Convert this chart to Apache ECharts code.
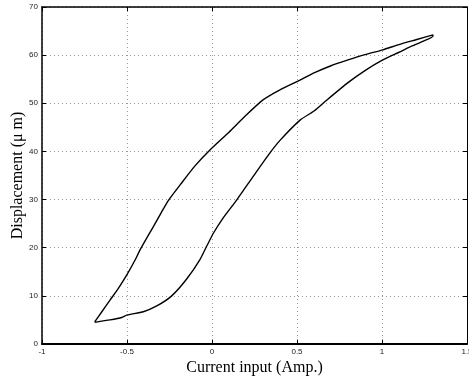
<!DOCTYPE html>
<html>
<head>
<meta charset="utf-8">
<script src="https://cdn.jsdelivr.net/npm/echarts@6/dist/echarts.min.js"></script>
<style>
  html, body { margin: 0; padding: 0; background: #fff; }
  #chart { width: 469px; height: 382px; }
</style>
</head>
<body>
<div id="chart"></div>
<script>
// rising branch (lower-left up to top-right)
var upX = [-0.69, -0.65, -0.6, -0.55, -0.502, -0.45, -0.424, -0.345, -0.3, -0.257, -0.18, -0.1, -0.012, 0.1, 0.2, 0.3, 0.4, 0.518, 0.6, 0.7, 0.8, 0.9, 1.005, 1.1, 1.2, 1.3]
var upY = [4.6, 6.6, 9.1, 11.6, 14.3, 17.6, 19.5, 24.4, 27.2, 29.8, 33.4, 37.0, 40.3, 44.0, 47.5, 50.7, 52.8, 54.8, 56.3, 57.8, 59.0, 60.1, 61.1, 62.2, 63.2, 64.2]
// falling branch (top-right back down to lower-left)
var downX = [1.3, 1.25, 1.165, 1.1, 1.005, 0.9, 0.8, 0.676, 0.6, 0.518, 0.4, 0.341, 0.25, 0.145, 0.066, 0.008, -0.03, -0.07, -0.149, -0.237, -0.325, -0.404, -0.502, -0.531, -0.6, -0.69]
var downY = [64.0, 63.0, 61.7, 60.6, 59.0, 56.8, 54.3, 50.7, 48.4, 46.5, 42.3, 39.7, 35.2, 29.9, 26.2, 23.0, 20.4, 17.6, 13.5, 10.0, 7.9, 6.7, 6.0, 5.5, 5.0, 4.5]

var xTicks = { min: -1, max: 1.5, interval: 0.5 }
var yTicks = { min: 0, max: 70, interval: 10 }

var loop = []
for (var i = 0; i < upX.length; i++) loop.push([upX[i], upY[i]])
for (var j = 0; j < downX.length; j++) loop.push([downX[j], downY[j]])

var dom = echarts.init(document.getElementById('chart'))

var tickLabel = {
  color: '#222',
  fontSize: 8,
  fontFamily: 'Liberation Sans, Arial, sans-serif'
}
var titleStyle = {
  color: '#000',
  fontSize: 16,
  fontFamily: 'Liberation Serif, Times New Roman, serif'
}
var gridLine = { show: true, lineStyle: { color: '#999', type: [1, 3], width: 1 } }
var inTick = { show: true, inside: true, length: 4, lineStyle: { color: '#000' } }

var option = {
  animation: false,
  grid: {
    left: 42,
    right: 2,
    top: 7,
    bottom: 38,
    outerBoundsMode: 'none',
    containLabel: false
  },
  xAxis: [{
    type: 'value',
    position: 'bottom',
    min: xTicks.min,
    max: xTicks.max,
    interval: xTicks.interval,
    name: 'Current input (Amp.)',
    nameLocation: 'middle',
    nameGap: 16,
    nameMoveOverlap: false,
    nameTextStyle: titleStyle,
    axisLine: { show: true, onZero: false, lineStyle: { color: '#000', width: 2 } },
    axisTick: inTick,
    axisLabel: Object.assign({ margin: 4 }, tickLabel),
    splitLine: gridLine
  }, {
    type: 'value',
    position: 'top',
    min: xTicks.min,
    max: xTicks.max,
    interval: xTicks.interval,
    axisLine: { show: true, onZero: false, lineStyle: { color: '#000', width: 1.5 } },
    axisTick: inTick,
    axisLabel: { show: false },
    splitLine: { show: false }
  }],
  yAxis: [{
    type: 'value',
    position: 'left',
    min: yTicks.min,
    max: yTicks.max,
    interval: yTicks.interval,
    name: 'Displacement (\u03bc m)',
    nameLocation: 'middle',
    nameGap: 16,
    nameMoveOverlap: false,
    nameTextStyle: titleStyle,
    axisLine: { show: true, onZero: false, lineStyle: { color: '#000', width: 1.5 } },
    axisTick: inTick,
    axisLabel: Object.assign({ margin: 4 }, tickLabel),
    splitLine: gridLine
  }, {
    type: 'value',
    position: 'right',
    min: yTicks.min,
    max: yTicks.max,
    interval: yTicks.interval,
    axisLine: { show: true, onZero: false, lineStyle: { color: '#000', width: 1 } },
    axisTick: inTick,
    axisLabel: { show: false },
    splitLine: { show: false }
  }],
  series: [{
    type: 'line',
    data: loop,
    showSymbol: false,
    smooth: 0.2,
    lineStyle: { color: '#000', width: 1.4 }
  }]
}

dom.setOption(option)
</script>
</body>
</html>
